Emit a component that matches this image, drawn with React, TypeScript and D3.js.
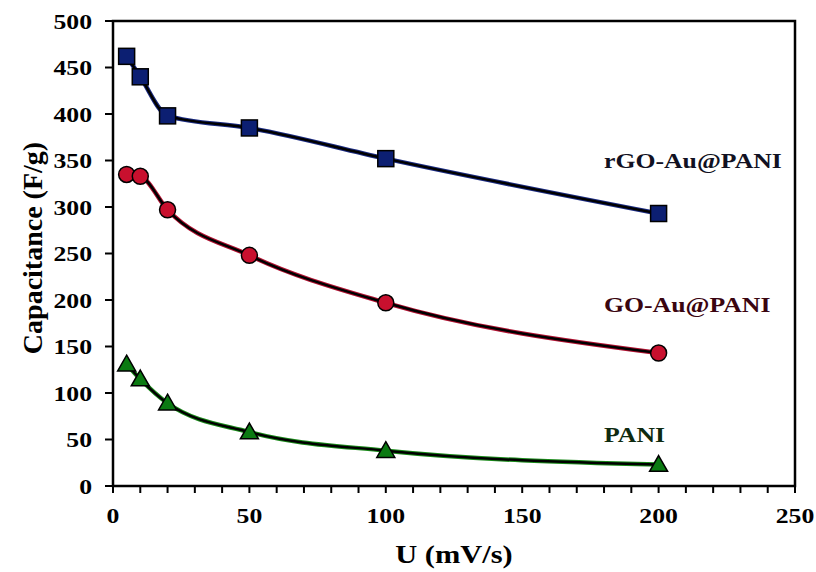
import React from "react";
import * as d3 from "d3";

const scanRates = [5, 10, 20, 50, 100, 200];
const rgoValues = [462, 440, 398, 385, 352, 293];
const goValues = [335, 333, 297, 248, 197, 143];
const paniValues = [131, 115, 89, 58, 38, 23];
const seriesNames = ["rGO-Au@PANI", "GO-Au@PANI", "PANI"];
const xTicks = [0, 50, 100, 150, 200, 250];
const xMinorTicks = d3.range(0, 251, 10);
const yTicks = [0, 50, 100, 150, 200, 250, 300, 350, 400, 450, 500];

const W = 816, H = 572;
const left = 113, right = 795, top = 21, bottom = 486;
const SX = 1.17;
const font = "'Liberation Serif', 'Times New Roman', serif";

export default function App() {
  const x = d3.scaleLinear().domain([0, 250]).range([left, right]);
  const y = d3.scaleLinear().domain([0, 500]).range([bottom, top]);
  const line = d3
    .line<[number, number]>()
    .x((d) => x(d[0]))
    .y((d) => y(d[1]))
    .curve(d3.curveMonotoneX);

  const series = [
    { name: seriesNames[0], vals: rgoValues, fill: "#0c1f72", halo: "#1a2a80", label: "#111122", ly: 168, shape: "square" },
    { name: seriesNames[1], vals: goValues, fill: "#c8102e", halo: "#b01030", label: "#3a0510", ly: 312, shape: "circle" },
    { name: seriesNames[2], vals: paniValues, fill: "#0b7a12", halo: "#1a8a1a", label: "#0e2a10", ly: 442, shape: "triangle" },
  ];

  const marker = (shape: string, cx: number, cy: number, fill: string, k: string) => {
    if (shape === "square")
      return <rect key={k} x={cx - 8} y={cy - 8} width={16} height={16} fill={fill} stroke="#000" strokeWidth={1.5} />;
    if (shape === "circle")
      return <circle key={k} cx={cx} cy={cy} r={8} fill={fill} stroke="#000" strokeWidth={1.5} />;
    const s = 9;
    return (
      <path
        key={k}
        d={`M${cx},${cy - s} L${cx + s},${cy + s * 0.75} L${cx - s},${cy + s * 0.75} Z`}
        fill={fill}
        stroke="#000"
        strokeWidth={1.5}
      />
    );
  };

  const stretchText = (t: string, tx: number, ty: number, size: number, anchor: string, color = "#000", k?: string) => (
    <text
      key={k}
      transform={`translate(${tx},${ty}) scale(${SX},1)`}
      textAnchor={anchor}
      fontFamily={font}
      fontWeight="bold"
      fontSize={size}
      fill={color}
    >
      {t}
    </text>
  );

  return (
    <div style={{ position: "absolute", left: 0, top: 0 }}>
      <svg width={W} height={H} style={{ display: "block", background: "#fff" }}>
        <rect x={left} y={top} width={right - left} height={bottom - top} fill="none" stroke="#000" strokeWidth={2.5} />
        {xMinorTicks.map((t) => (
          <line key={"xt" + t} x1={x(t)} x2={x(t)} y1={bottom} y2={bottom + 7} stroke="#000" strokeWidth={2} />
        ))}
        {xTicks.map((t) => stretchText(String(t), x(t), 523, 22, "middle", "#000", "xl" + t))}
        {yTicks.map((t) => (
          <line key={"yt" + t} x1={left - 8} x2={left} y1={y(t)} y2={y(t)} stroke="#000" strokeWidth={2} />
        ))}
        {yTicks.map((t) => stretchText(String(t), 92, y(t) + 7.5, 22, "end", "#000", "yl" + t))}
        <text
          transform={`translate(42,248) rotate(-90)`}
          textAnchor="middle"
          fontFamily={font}
          fontWeight="bold"
          fontSize={28}
          fill="#000"
        >
          Capacitance (F/g)
        </text>
        {stretchText("U (mV/s)", 454, 563, 26, "middle")}
        {series.map((s) => {
          const pts: [number, number][] = scanRates.map((r, i) => [r, s.vals[i]]);
          return (
            <g key={s.name}>
              <path d={line(pts) || ""} fill="none" stroke={s.halo} strokeWidth={4.5} />
              <path d={line(pts) || ""} fill="none" stroke="#000" strokeWidth={2.5} />
              {pts.map((p, i) => marker(s.shape, x(p[0]), y(p[1]), s.fill, s.name + i))}
              {stretchText(s.name, 604, s.ly, 22, "start", s.label)}
            </g>
          );
        })}
      </svg>
    </div>
  );
}
